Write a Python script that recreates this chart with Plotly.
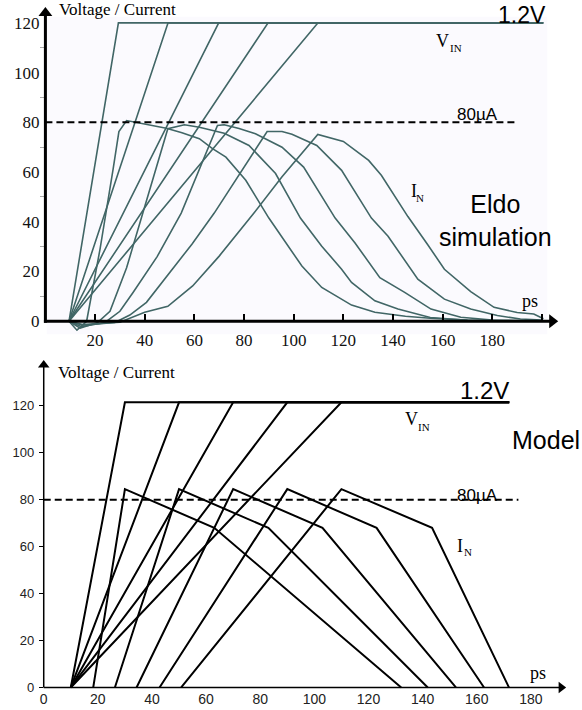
import plotly.graph_objects as go

# ---------------- Eldo simulation (top panel) ----------------
eldo_vin_start = 9.5
eldo_vin_reach = [29.4, 49.4, 69.8, 89.7, 109.8]
eldo_vin_level = 120
eldo_vin_stop = 200.5
eldo_ref_level = 80
eldo_ref_stop = 190.5

eldo_in1_t = [9.5, 12.7, 16.6, 22, 27.3, 29.6, 32.7, 39.3, 48.7, 55, 62, 67.3, 72.7, 80.7, 90, 103.3, 111.3, 123.3, 132.7, 145, 155, 170, 185]
eldo_in1_i = [0, -3.6, 0, 29, 61.4, 76.3, 80.7, 79.3, 77.6, 75.8, 73.4, 69.4, 66, 56.7, 41.5, 22.2, 13.6, 6.5, 3.6, 2, 1.2, 0.5, 0.2]
eldo_in2_t = [9.5, 14, 21, 26, 32.7, 39.3, 44.6, 49.3, 56, 62, 72, 82, 92.7, 95.3, 102.7, 111.3, 119.3, 123.3, 132.7, 142, 155, 170, 185]
eldo_in2_i = [0, -2.8, -0.5, 4, 21.5, 43.5, 61.4, 77.4, 79, 78, 75.6, 70.7, 59.4, 54.7, 41.5, 30.2, 20.9, 15.6, 8.2, 4.9, 1.5, 0.4, 0.1]
eldo_in3_t = [9.5, 14.5, 24, 30, 35.3, 45, 54.7, 62.1, 69.3, 72, 78, 84.6, 95.3, 104, 116.7, 124.7, 134.7, 144.7, 155.3, 167.3, 180, 195]
eldo_in3_i = [0, -2.2, -0.5, 4, 11.6, 26, 43.5, 61.4, 78.7, 79, 77.5, 75.4, 70, 62, 41.5, 31.5, 17.5, 11.6, 4.9, 1.6, 0.5, 0.2]
eldo_in4_t = [9.5, 15, 28, 34, 40.7, 50, 59, 68, 79.6, 89.3, 95.3, 99.3, 109.3, 119.3, 131.3, 138, 150, 160.7, 171.3, 182, 191.3, 200]
eldo_in4_i = [0, -1.6, -0.5, 2.5, 7.6, 19.5, 31, 43.5, 61.4, 76.3, 76.3, 75.2, 70.7, 60.7, 41.5, 34.2, 16.9, 8.9, 4.9, 2.3, 0.9, 0.5]
eldo_in5_t = [9.5, 15, 30, 40, 49.3, 59.3, 70, 84, 95.3, 98.1, 109.7, 120, 130.2, 135.3, 146, 154, 160.7, 171.3, 180.7, 190, 196.7, 200.6]
eldo_in5_i = [0, -1.3, -0.4, 3.6, 6, 14.2, 26.2, 43.5, 58.1, 61.4, 75.1, 72.3, 64.7, 58.7, 42.1, 30.8, 20.9, 11.9, 5.6, 3.5, 2.9, 1]

top_xticks = [20, 40, 60, 80, 100, 120, 140, 160, 180]
top_xminor = [200]
top_yticks = [0, 20, 40, 60, 80, 100, 120]
top_yminor = [10, 30, 50, 70, 90, 110]

# ---------------- Model (bottom panel) ----------------
model_vin_start = 10
model_vin_reach = [30, 50, 70, 90, 110]
model_vin_level = 121.5
model_vin_stop = 172
model_ref_level = 80
model_ref_stop = 175.4
model_in_start = [18.3, 26.3, 34.3, 42.8, 50.8]
model_in_peak_t = [30, 50, 70, 90, 110]
model_in_peak = 84.5
model_in_knee_t = [63, 83, 103, 123, 143.5]
model_in_knee = 68
model_in_end = [132.1, 141.9, 152.3, 162.7, 171.9]

bot_xticks = [0, 20, 40, 60, 80, 100, 120, 140, 160, 180]
bot_yticks = [0, 20, 40, 60, 80, 100, 120]

# ---------------- figure ----------------
W, H = 582, 710
ELDO_COL = "#416666"
SERIF = "Liberation Serif, Times New Roman, serif"
SANS = "Liberation Sans, Arial, sans-serif"

fig = go.Figure()

# Eldo VIN
for t1 in eldo_vin_reach:
    fig.add_trace(go.Scatter(x=[eldo_vin_start, t1, eldo_vin_stop],
                             y=[0, eldo_vin_level, eldo_vin_level],
                             mode="lines", line=dict(color=ELDO_COL, width=1.6),
                             xaxis="x", yaxis="y", hoverinfo="skip"))
# Eldo IN
for tt, ii in [(eldo_in1_t, eldo_in1_i), (eldo_in2_t, eldo_in2_i), (eldo_in3_t, eldo_in3_i),
               (eldo_in4_t, eldo_in4_i), (eldo_in5_t, eldo_in5_i)]:
    fig.add_trace(go.Scatter(x=tt, y=ii, mode="lines",
                             line=dict(color=ELDO_COL, width=1.6),
                             xaxis="x", yaxis="y", hoverinfo="skip"))
# Eldo 80uA reference
fig.add_trace(go.Scatter(x=[0, eldo_ref_stop], y=[eldo_ref_level, eldo_ref_level], mode="lines",
                         line=dict(color="black", width=2, dash="7px,4px"),
                         xaxis="x", yaxis="y", hoverinfo="skip"))

# Model VIN
for t1 in model_vin_reach:
    fig.add_trace(go.Scatter(x=[model_vin_start, t1, model_vin_stop],
                             y=[0, model_vin_level, model_vin_level],
                             mode="lines", line=dict(color="black", width=2),
                             xaxis="x2", yaxis="y2", hoverinfo="skip"))
# Model IN
for s, p, k, e in zip(model_in_start, model_in_peak_t, model_in_knee_t, model_in_end):
    fig.add_trace(go.Scatter(x=[s, p, k, e], y=[0, model_in_peak, model_in_knee, 0],
                             mode="lines", line=dict(color="black", width=2),
                             xaxis="x2", yaxis="y2", hoverinfo="skip"))
# Model 80uA reference
fig.add_trace(go.Scatter(x=[0, model_ref_stop], y=[model_ref_level, model_ref_level], mode="lines",
                         line=dict(color="black", width=2, dash="7px,4px"),
                         xaxis="x2", yaxis="y2", hoverinfo="skip"))

# pixel helpers for layout
def pyf(py):
    return 1 - py / H

top_x0, top_sx = 41.7, 2.5
top_y0, top_sy = 324.0, 2.508
bot_x0, bot_sx = 40.0, 2.725
bot_y0, bot_sy = 693.3, 2.367

fig.update_layout(
    width=W, height=H, margin=dict(l=0, r=0, t=0, b=0),
    paper_bgcolor="white", plot_bgcolor="rgba(0,0,0,0)", showlegend=False,
    xaxis=dict(domain=[top_x0 / W, 1], range=[0, (W - top_x0) / top_sx],
               anchor="free", position=pyf(top_y0),
               showgrid=False, zeroline=False, showline=False,
               tickvals=top_xticks,
               ticks="inside", ticklen=7, tickwidth=1.5, tickcolor="black",
               minor=dict(tickvals=top_xminor, ticks="inside", ticklen=7, tickwidth=1.5,
                          tickcolor="black"),
               tickfont=dict(family=SERIF, size=17, color="#111"), ticklabelstandoff=7),
    yaxis=dict(domain=[pyf(334), 1], range=[(top_y0 - 334) / top_sy, top_y0 / top_sy],
               anchor="x", showgrid=False, zeroline=False, showline=False,
               tickvals=top_yticks, ticks="",
               tickfont=dict(family=SERIF, size=17, color="#111"), ticklabelstandoff=5,
               minor=dict(tickvals=top_yminor, ticks="outside", ticklen=4,
                          tickwidth=1, tickcolor="#aaaaaa")),
    xaxis2=dict(domain=[bot_x0 / W, 1], range=[0, (W - bot_x0) / bot_sx],
                anchor="free", position=pyf(bot_y0),
                showgrid=False, zeroline=False, showline=False,
                tickvals=bot_xticks, ticks="",
                tickfont=dict(family=SANS, size=14, color="#222"), ticklabelstandoff=2),
    yaxis2=dict(domain=[pyf(695), 0.5], range=[(bot_y0 - 695) / bot_sy, (bot_y0 - 355) / bot_sy],
                anchor="x2", showgrid=False, zeroline=False, showline=False,
                tickvals=bot_yticks, ticks="outside", ticklen=4, tickwidth=1, tickcolor="black",
                tickfont=dict(family=SANS, size=13, color="#222"), ticklabelstandoff=2),
)

# very light tint behind the Eldo plot
fig.add_shape(type="rect", xref="paper", yref="paper",
              x0=43 / W, x1=547 / W, y0=pyf(337), y1=pyf(17),
              fillcolor="#fbfafe", line=dict(width=0), layer="below")

# axis lines (paper coordinates, pixel based)
def hline(px0, px1, py, w):
    fig.add_shape(type="line", xref="paper", yref="paper",
                  x0=px0 / W, x1=px1 / W, y0=pyf(py), y1=pyf(py),
                  line=dict(color="black", width=w), layer="above")

def vline(px, py0, py1, w):
    fig.add_shape(type="line", xref="paper", yref="paper",
                  x0=px / W, x1=px / W, y0=pyf(py0), y1=pyf(py1),
                  line=dict(color="black", width=w), layer="above")

vline(top_x0, top_y0 + 1.5, 14, 3)
hline(top_x0 - 1.5, 550, top_y0, 3)
vline(bot_x0, bot_y0, 370, 1.5)
hline(bot_x0, 560, bot_y0, 1.5)

# arrowheads as markers at the ends of the axes
fig.add_trace(go.Scatter(x=[0], y=[(top_y0 - 13) / top_sy], mode="markers",
                         marker=dict(symbol="triangle-up", size=12, color="black"),
                         xaxis="x", yaxis="y", cliponaxis=False, hoverinfo="skip"))
fig.add_trace(go.Scatter(x=[(552 - top_x0) / top_sx], y=[0], mode="markers",
                         marker=dict(symbol="triangle-right", size=12, color="black"),
                         xaxis="x", yaxis="y", cliponaxis=False, hoverinfo="skip"))
fig.add_trace(go.Scatter(x=[0], y=[(bot_y0 - 368) / bot_sy], mode="markers",
                         marker=dict(symbol="triangle-up", size=10, color="black"),
                         xaxis="x2", yaxis="y2", cliponaxis=False, hoverinfo="skip"))
fig.add_trace(go.Scatter(x=[(561 - bot_x0) / bot_sx], y=[0], mode="markers",
                         marker=dict(symbol="triangle-right", size=10, color="black"),
                         xaxis="x2", yaxis="y2", cliponaxis=False, hoverinfo="skip"))

def label(xr, yr, x, y, text, family, size, xanchor="center", color="black"):
    fig.add_annotation(xref=xr, yref=yr, x=x, y=y, text=text, showarrow=False,
                       xanchor=xanchor, yanchor="middle",
                       font=dict(family=family, size=size, color=color))

# top labels
label("x", "y", 4.5, 125.3, "Voltage / Current", SERIF, 17, xanchor="left")
label("x", "y", 192.1, 123.2, "1.2V", SANS, 23)
label("x", "y", 159.9, 112.6, "V", SERIF, 18)
label("x", "y", 165.2, 109.8, "IN", SERIF, 11)
label("x", "y", 174.1, 83.0, "80µA", SANS, 17)
label("x", "y", 148.3, 52.4, "I", SERIF, 18)
label("x", "y", 151.0, 49.6, "N", SERIF, 11)
label("x", "y", 181.3, 40.7, "Eldo<br>simulation", SANS, 25)
label("x", "y", 195.3, 8.3, "ps", SERIF, 18)

# bottom labels
label("x2", "y2", 4.4, 134.3, "Voltage / Current", SERIF, 17, xanchor="left")
label("x2", "y2", 162.9, 126.6, "1.2V", SANS, 24)
label("x2", "y2", 135.8, 114.2, "V", SERIF, 18)
label("x2", "y2", 140.5, 111.0, "IN", SERIF, 11)
label("x2", "y2", 185.7, 105.3, "Model", SANS, 25)
label("x2", "y2", 160.4, 81.7, "80µA", SANS, 17)
label("x2", "y2", 154.0, 60.1, "I", SERIF, 18)
label("x2", "y2", 156.7, 57.6, "N", SERIF, 11)
label("x2", "y2", 182.8, 6.0, "ps", SERIF, 18)

fig.write_html("out.html")
